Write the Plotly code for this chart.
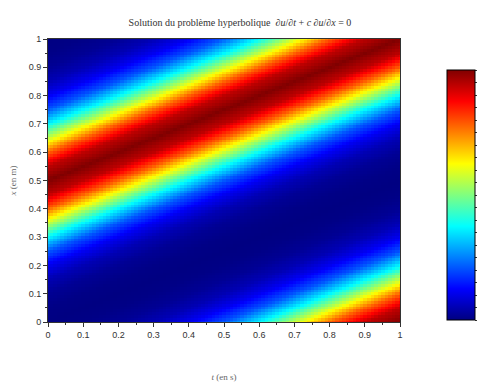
import numpy as np
import plotly.graph_objects as go

x_profile = [0.0, 0.05, 0.1, 0.15, 0.2, 0.25, 0.3, 0.35, 0.4, 0.45, 0.5,
             0.55, 0.6, 0.65, 0.7, 0.75, 0.8, 0.85, 0.9, 0.95, 1.0]
u_profile = [0.002, 0.006, 0.02, 0.05, 0.11, 0.21, 0.37, 0.57, 0.78, 0.94, 1.0,
             0.94, 0.78, 0.57, 0.37, 0.21, 0.11, 0.05, 0.02, 0.006, 0.002]
c_speed = 0.5
t_values = np.linspace(0, 1, 101)
x_values = np.linspace(0, 1, 101)
axis_ticks = [0, 0.1, 0.2, 0.3, 0.4, 0.5, 0.6, 0.7, 0.8, 0.9, 1]
axis_labels = ["0", "0.1", "0.2", "0.3", "0.4", "0.5", "0.6", "0.7", "0.8", "0.9", "1"]
minor_ticks = [0.05, 0.15, 0.25, 0.35, 0.45, 0.55, 0.65, 0.75, 0.85, 0.95]

T, X = np.meshgrid(t_values, x_values)
xi = np.mod(X - c_speed * T, 1.0)
U = np.interp(xi, x_profile, u_profile)

jet = [[0.0, "rgb(0,0,128)"], [0.125, "rgb(0,0,255)"], [0.375, "rgb(0,255,255)"],
       [0.625, "rgb(255,255,0)"], [0.875, "rgb(255,0,0)"], [1.0, "rgb(128,0,0)"]]

W, H = 485, 382
OFF = 8  # page body margin
L, Tp = 48 - OFF, 39 - OFF
R = W - (400 - OFF)
B = H - (322 - OFF)
pw = W - L - R
ph = H - Tp - B

cb_vals = sorted(axis_ticks + minor_ticks)
cb_text = [axis_labels[axis_ticks.index(v)] if v in axis_ticks else "" for v in cb_vals]

fig = go.Figure(go.Heatmap(
    x=t_values, y=x_values, z=U, colorscale=jet, zmin=0, zmax=1, zsmooth=False,
    colorbar=dict(
        thickness=28, thicknessmode="pixels", len=250, lenmode="pixels",
        x=(447 - OFF - L) / pw, xanchor="left", y=(322 - 195) / ph, yanchor="middle",
        xpad=0, ypad=0, outlinewidth=1, outlinecolor="black",
        tickvals=cb_vals, ticktext=cb_text, ticks="outside", ticklen=4,
        tickcolor="#333", tickfont=dict(size=9, color="#333", family="Liberation Sans"),
    ),
))

axis_common = dict(
    range=[0, 1], tickvals=axis_ticks, ticktext=axis_labels, ticks="outside",
    ticklen=4, tickcolor="#333", showline=True, linecolor="#333", linewidth=1,
    mirror=True, showgrid=False, zeroline=False, automargin=False,
    tickfont=dict(size=9, color="#333", family="Liberation Sans"),
    minor=dict(ticks="outside", ticklen=2, tickvals=minor_ticks, tickcolor="#333"),
)
fig.update_xaxes(**axis_common,
                 title=dict(text="<i>t</i> (en s)", font=dict(size=9, color="#666", family="Liberation Serif"), standoff=34))
fig.update_yaxes(**axis_common,
                 title=dict(text="<i>x</i> (en m)", font=dict(size=9, color="#666", family="Liberation Serif"), standoff=14))

# thin grey strip at the bottom of the colour bar
fig.add_shape(type="rect", xref="paper", yref="paper",
              x0=(447 - OFF - L) / pw, x1=(475 - OFF - L) / pw,
              y0=(322 - 320) / ph, y1=(322 - 317) / ph,
              fillcolor="#a0a0c8", line=dict(width=0))

fig.update_layout(
    width=W, height=H, margin=dict(l=L, r=R, t=Tp, b=B, autoexpand=False),
    paper_bgcolor="white", plot_bgcolor="white",
    title=dict(text="Solution du problème hyperbolique  ∂<i>u</i>/∂<i>t</i> + <i>c</i> ∂<i>u</i>/∂<i>x</i> = 0",
               x=(240 - OFF) / W, xanchor="center", y=1 - 14 / H, yanchor="middle",
               font=dict(size=10, color="#333", family="Liberation Serif")),
)

fig.write_html("out.html")
